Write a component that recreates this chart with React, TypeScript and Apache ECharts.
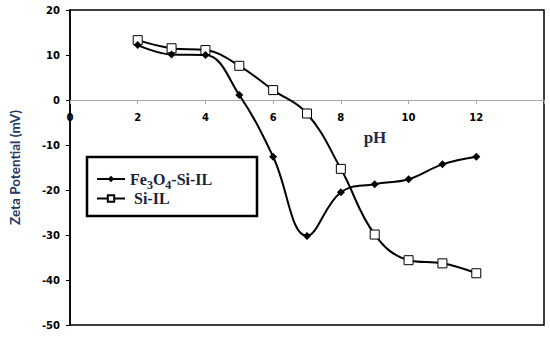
import React, { useEffect, useRef } from "react";
import * as echarts from "echarts";

const phValues = [2, 3, 4, 5, 6, 7, 8, 9, 10, 11, 12];
const fe3o4SiIL = [12.2, 10.1, 10.0, 1.1, -12.6, -30.2, -20.5, -18.7, -17.6, -14.3, -12.6];
const siIL = [13.3, 11.5, 11.1, 7.6, 2.2, -3.0, -15.3, -29.9, -35.6, -36.3, -38.5];
const seriesNames = ["Fe3O4-Si-IL", "Si-IL"];

export default function App() {
  const ref = useRef<HTMLDivElement>(null);
  useEffect(() => {
    if (!ref.current) return;
    const chart = echarts.init(ref.current, undefined, { renderer: "svg" });
    const tickFont = { fontFamily: "DejaVu Sans", fontWeight: "bold" as const, fontSize: 10, color: "#000" };
    const legendColor = "#1a1f3a";
    chart.setOption({
      animation: false,
      backgroundColor: "#fff",
      grid: {
        left: 70,
        top: 10,
        right: 6,
        bottom: 12,
        show: true,
        borderColor: "#000",
        borderWidth: 1.5,
        backgroundColor: "transparent",
      },
      xAxis: {
        type: "value",
        min: 0,
        max: 14,
        interval: 2,
        position: "bottom",
        offset: -225,
        axisLine: { show: true, onZero: false, lineStyle: { color: "#a6a6a6", width: 1 } },
        axisTick: { show: true, length: 4, lineStyle: { color: "#a6a6a6" } },
        splitLine: { show: false },
        axisLabel: {
          ...tickFont,
          margin: 12,
          formatter: (v: number) => (v === 14 ? "" : String(v)),
        },
      },
      yAxis: {
        type: "value",
        min: -50,
        max: 20,
        interval: 10,
        name: "Zeta Potential (mV)",
        nameLocation: "middle",
        nameRotate: 90,
        nameGap: 48,
        nameTextStyle: { fontFamily: "Lato", fontWeight: "bold", fontSize: 13.5, color: "#1f3864" },
        axisLine: { show: true, onZero: false, lineStyle: { color: "#000", width: 1.5 } },
        axisTick: { show: true, length: 4, lineStyle: { color: "#000" } },
        splitLine: { show: false },
        axisLabel: { ...tickFont, margin: 10 },
      },
      legend: {
        orient: "vertical",
        left: 96,
        top: 171,
        itemWidth: 28,
        itemHeight: 8,
        itemGap: 0,
        padding: 0,
        data: seriesNames,
        formatter: (name: string) =>
          name === "Fe3O4-Si-IL" ? "{a|Fe}{s|3}{a|O}{s|4}{a|-Si-IL}" : "{b| Si-IL}",
        textStyle: {
          fontFamily: "Liberation Serif",
          fontWeight: "bold",
          fontSize: 16,
          color: legendColor,
          rich: {
            a: { fontFamily: "Liberation Serif", fontWeight: "bold", fontSize: 16, lineHeight: 23, color: legendColor },
            b: { fontFamily: "Liberation Serif", fontWeight: "bold", fontSize: 16, lineHeight: 18, color: legendColor },
            s: { fontFamily: "Liberation Serif", fontWeight: "bold", fontSize: 12, lineHeight: 12, verticalAlign: "bottom", color: legendColor },
          },
        },
      },
      graphic: [
        {
          type: "rect",
          shape: { x: 87, y: 157, width: 170, height: 59 },
          style: { fill: "transparent", stroke: "#000", lineWidth: 2.5 },
          z: 10,
        },
        {
          type: "text",
          x: 375,
          y: 137,
          style: {
            text: "pH",
            fontFamily: "Liberation Serif",
            fontWeight: "bold",
            fontSize: 17,
            fill: "#1f2a4a",
            align: "center",
            verticalAlign: "middle",
          },
        },
      ],
      series: [
        {
          name: seriesNames[0],
          type: "line",
          data: phValues.map((x, i) => [x, fe3o4SiIL[i]]),
          smooth: 0.4,
          symbol: "diamond",
          symbolSize: 8,
          itemStyle: { color: "#000" },
          lineStyle: { color: "#000", width: 2 },
          z: 3,
        },
        {
          name: seriesNames[1],
          type: "line",
          data: phValues.map((x, i) => [x, siIL[i]]),
          smooth: 0.4,
          symbol: "rect",
          symbolSize: 9,
          itemStyle: { color: "#fff", borderColor: "#000", borderWidth: 1 },
          lineStyle: { color: "#000", width: 2 },
          z: 2,
        },
      ],
    });
    return () => chart.dispose();
  }, []);
  return <div ref={ref} style={{ width: 550, height: 337, position: "absolute", left: 0, top: 0 }} />;
}
